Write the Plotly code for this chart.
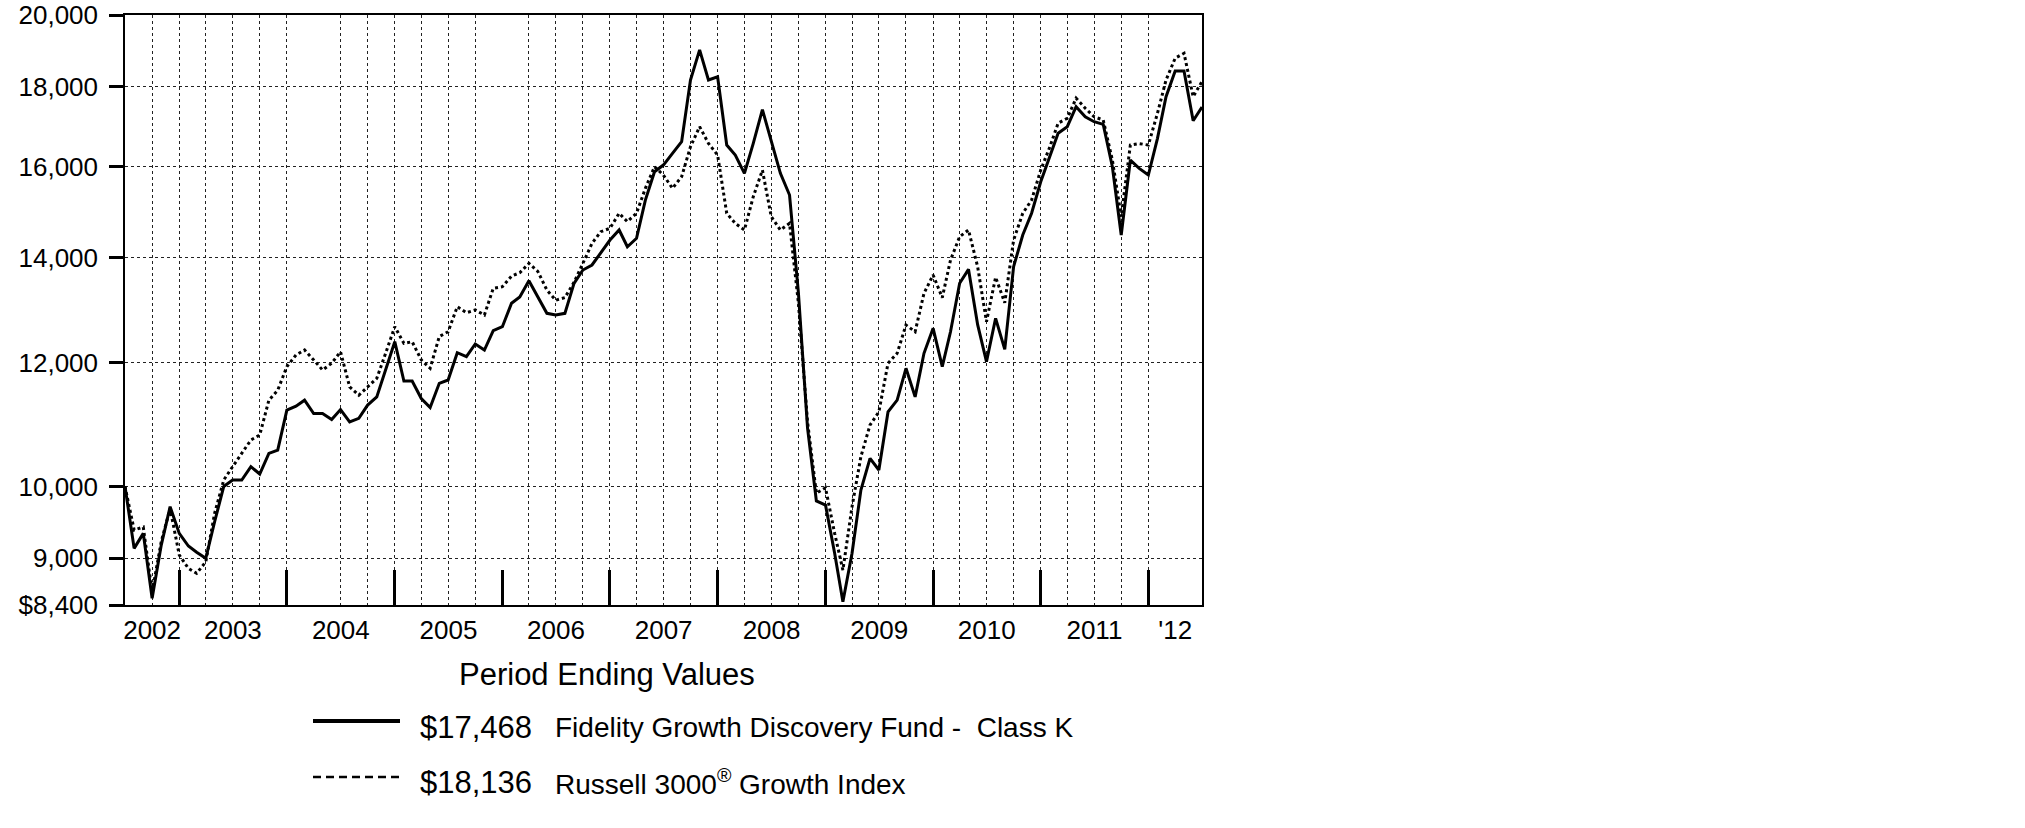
import math
import pandas as pd
import plotly.graph_objects as go

# month-end values of a $10,000 investment, Jun 2002 - Jun 2012
fund = [
    10000, 9129, 9333, 8483, 9174, 9706, 9333, 9161, 9077, 8997,
    9494, 10000, 10095, 10095, 10294, 10184, 10498, 10549, 11186, 11253,
    11352, 11132, 11132, 11034, 11197, 10994, 11054, 11270, 11407, 11867,
    12371, 11677, 11677, 11380, 11230, 11637, 11694, 12173, 12101, 12330,
    12221, 12573, 12647, 13090, 13211, 13531, 13211, 12898, 12866, 12898,
    13480, 13746, 13848, 14088, 14366, 14580, 14225, 14402, 15236, 15883,
    16040, 16319, 16600, 18177, 19000, 18177, 18265, 16519, 16278, 15846,
    16560, 17400, 16600, 15846, 15349, 13300, 10900, 9788, 9730, 9064,
    8441, 9064, 9947, 10422, 10244, 11158, 11352, 11897, 11407, 12162,
    12617, 11925, 12554, 13480, 13760, 12684, 12014, 12804, 12233, 13814,
    14473, 14942, 15650, 16237, 16807, 16972, 17478, 17222, 17096, 17030,
    16000, 14473, 16159, 15963, 15807, 16683, 17737, 18419, 18419, 17120,
    17468,
]
index = [
    10000, 9380, 9420, 8560, 9220, 9680, 9041, 8865, 8800, 8951,
    9613, 10095, 10294, 10498, 10706, 10785, 11352, 11520, 11925, 12132,
    12221, 12044, 11867, 11985, 12190, 11576, 11435, 11576, 11723, 12162,
    12647, 12342, 12371, 12044, 11897, 12465, 12554, 13025, 12910, 12962,
    12866, 13381, 13413, 13625, 13691, 13881, 13720, 13348, 13150, 13200,
    13500, 13881, 14297, 14544, 14616, 14942, 14760, 14942, 15500, 16000,
    15807, 15500, 15768, 16478, 16972, 16560, 16278, 14942, 14723, 14580,
    15311, 15922, 14868, 14580, 14723, 13100, 11000, 9900, 9980, 9333,
    8843, 9706, 10447, 10945, 11158, 11985, 12162, 12679, 12554, 13283,
    13646, 13200, 13949, 14437, 14580, 13814, 12741, 13600, 13100, 14366,
    14942, 15236, 15922, 16478, 17059, 17182, 17696, 17438, 17222, 17138,
    16159, 14868, 16519, 16555, 16519, 17310, 18177, 18769, 18907, 17737,
    18136,
]

dates = pd.date_range("2002-07-01", "2012-07-01", freq="MS") - pd.Timedelta(days=1)

y_ticks = [8400, 9000, 10000, 12000, 14000, 16000, 18000, 20000]
y_labels = ["$8,400", "9,000", "10,000", "12,000", "14,000", "16,000", "18,000", "20,000"]

year_labels = ["2002", "2003", "2004", "2005", "2006", "2007", "2008", "2009", "2010", "2011", "'12"]
label_pos = ["2002-09-30"] + [f"{y}-07-01" for y in range(2003, 2012)] + ["2012-03-31"]
year_ends = [f"{y}-12-31" for y in range(2002, 2012)]
skipped_grid = ["2004-03-31", "2005-12-31", "2012-03-31"]
grid_dates = [d for d in dates[3:-1:3] if d.strftime("%Y-%m-%d") not in skipped_grid]

legend_rows = [
    ("$17,468", "Fidelity Growth Discovery Fund -\u00a0 Class K", "solid"),
    ("$18,136", "Russell 3000<sup>®</sup> Growth Index", "8px,5px"),
]

FONT = "Liberation Sans, Arial, sans-serif"
x_range = [dates[0], dates[-1]]

fig = go.Figure()

# Russell 3000 Growth (dotted)
fig.add_trace(go.Scatter(
    x=dates, y=index, mode="lines",
    line=dict(color="black", width=3, dash="dot"),
    name="Russell 3000 Growth Index", showlegend=False
))

# Fund (solid)
fig.add_trace(go.Scatter(
    x=dates, y=fund, mode="lines",
    line=dict(color="black", width=3),
    name="Fidelity Growth Discovery Fund - Class K", showlegend=False
))

# helper traces so the overlay axes get drawn
for ax in ["x2", "x3"]:
    fig.add_trace(go.Scatter(
        x=x_range, y=[10000, 10000], xaxis=ax, mode="lines",
        line=dict(width=0), hoverinfo="skip", showlegend=False, opacity=0
    ))

fig.update_layout(
    width=2025, height=828,
    margin=dict(l=125, r=823, t=15, b=223, autoexpand=False),
    paper_bgcolor="white", plot_bgcolor="white",
    font=dict(family=FONT, color="black", size=26),
    xaxis=dict(
        type="date", range=x_range, automargin=False,
        tickmode="array", tickvals=grid_dates,
        showticklabels=False, ticks="",
        showgrid=True, gridcolor="#222", gridwidth=1, griddash="dot",
        showline=True, linecolor="black", linewidth=1.5, mirror=True,
        zeroline=False
    ),
    xaxis2=dict(
        type="date", range=x_range, overlaying="x", anchor="y", side="bottom",
        automargin=False,
        tickmode="array", tickvals=year_ends,
        ticks="inside", ticklen=35, tickwidth=3, tickcolor="black",
        showticklabels=False, showgrid=False, showline=False, zeroline=False
    ),
    xaxis3=dict(
        type="date", range=x_range, overlaying="x", anchor="y", side="bottom",
        automargin=False,
        tickmode="array", tickvals=label_pos, ticktext=year_labels,
        ticks="outside", ticklen=2, tickcolor="rgba(0,0,0,0)",
        showgrid=False, showline=False, zeroline=False,
        tickfont=dict(size=26)
    ),
    yaxis=dict(
        type="log", range=[math.log10(8400), math.log10(20000)], automargin=False,
        tickmode="array", tickvals=y_ticks, ticktext=y_labels,
        ticks="outside", ticklen=14, tickwidth=3, tickcolor="black",
        ticklabelstandoff=6,
        tickfont=dict(size=26),
        showgrid=True, gridcolor="#222", gridwidth=1, griddash="dot",
        showline=True, linecolor="black", linewidth=1.5, mirror=True,
        zeroline=False
    ),
)

# "legend" below the chart
fig.add_annotation(
    text="Period Ending Values", xref="paper", yref="paper",
    x=(607 - 125) / 1077, y=(605 - 674) / 590,
    showarrow=False, xanchor="center", yanchor="middle",
    font=dict(size=31)
)
for i, (amount, label, dash) in enumerate(legend_rows):
    y_line = (605 - (721 + 56 * i)) / 590
    y_text = (605 - (727 + 55 * i)) / 590
    fig.add_shape(
        type="line", xref="paper", yref="paper",
        x0=(313 - 125) / 1077, x1=(400 - 125) / 1077, y0=y_line, y1=y_line,
        line=dict(color="black", width=4 if dash == "solid" else 2.5, dash=dash)
    )
    fig.add_annotation(
        text=amount, xref="paper", yref="paper",
        x=(418 - 125) / 1077, y=y_text, showarrow=False,
        xanchor="left", yanchor="middle", font=dict(size=31)
    )
    fig.add_annotation(
        text=label, xref="paper", yref="paper",
        x=(553 - 125) / 1077, y=y_text, showarrow=False,
        xanchor="left", yanchor="middle", font=dict(size=28)
    )

fig.write_html(
    "out.html",
    config={"displayModeBar": False},
    post_script="document.body.style.margin='0px';",
)
